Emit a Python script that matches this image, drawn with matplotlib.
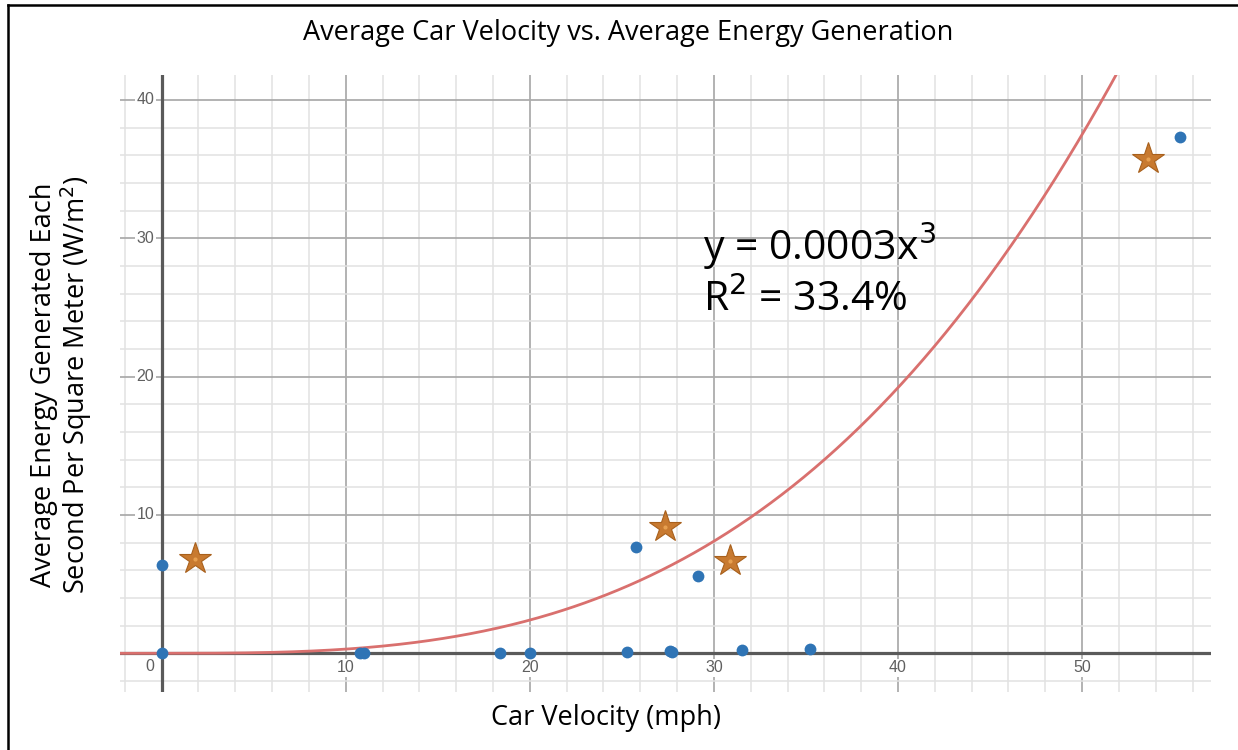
import matplotlib

matplotlib.use("Agg")

import matplotlib.pyplot as plt
import numpy as np
from matplotlib.lines import Line2D

# measured points (mph, W/m^2)
dot_x = [0.0, 0.0, 10.8, 11.0, 18.4, 20.0, 25.3, 25.75, 27.6, 27.7, 29.15, 31.5, 35.2, 55.3]
dot_y = [6.35, 0.0, 0.05, 0.05, 0.05, 0.05, 0.1, 7.65, 0.15, 0.1, 5.55, 0.2, 0.3, 37.3]
star_x = [1.8, 27.35, 30.9, 53.6]
star_y = [6.85, 9.1, 6.65, 35.7]
fit_coef = 0.0003
x_ticks = [10, 20, 30, 40, 50]
y_ticks = [10, 20, 30, 40]

W, H = 1238, 750
fig = plt.figure(figsize=(W / 100, H / 100), dpi=100)
fig.patch.set_facecolor("white")

# plot area in pixels (left, top, right, bottom)
L, T, R, B = 120, 75, 1211, 692
ax = fig.add_axes([L / W, 1 - B / H, (R - L) / W, (B - T) / H])
ax.set_xlim(-2.26, 57.0)
ax.set_ylim(-2.8, 41.8)
for s in ax.spines.values():
    s.set_visible(False)
ax.set_xticks([])
ax.set_yticks([])

# desmos-style grid
for gx in np.arange(-2, 57, 2):
    major = gx % 10 == 0
    ax.axvline(gx, color="#acacac" if major else "#e2e2e2",
               lw=1.3 if major else 1.1, zorder=0)
for gy in np.arange(-2, 42, 2):
    major = gy % 10 == 0
    ax.axhline(gy, color="#acacac" if major else "#e2e2e2",
               lw=1.3 if major else 1.1, zorder=0)
ax.axvline(0, color="#5a5a5a", lw=2.3, zorder=1)
ax.axhline(0, color="#5a5a5a", lw=2.3, zorder=1)

halo = dict(facecolor="white", edgecolor="none", pad=1.0)
tick_font = dict(family="Liberation Sans", fontsize=11.5, color="#606060")
for v in y_ticks:
    ax.text(-0.4, v, str(v), ha="right", va="center", bbox=halo, zorder=2, **tick_font)
for v in x_ticks:
    ax.text(v, -1.05, str(v), ha="center", va="center", bbox=halo, zorder=2, **tick_font)
ax.text(-0.4, -0.95, "0", ha="right", va="center", bbox=halo, zorder=2, **tick_font)

xs = np.linspace(-2.26, 57, 400)
ax.plot(xs, fit_coef * xs ** 3, color="#d9706e", lw=2.0, zorder=3, clip_on=True)

ax.plot(dot_x, dot_y, "o", color="#2f74b5", ms=8.5, mec="none", zorder=4)
ax.plot(star_x, star_y, "*", color="#c87a30", mec="#a8601c", mew=0.8, ms=24, zorder=5)
ax.plot(star_x, star_y, ".", color="#e8a050", ms=4, zorder=6)

eq_font = dict(family="Open Sans", fontsize=29.5, color="black")
ax.text(29.4, 29.4, r"y = 0.0003x$^3$", ha="left", va="center", zorder=6, **eq_font)
ax.text(29.4, 25.5, r"R$^2$ = 33.4%", ha="left", va="center", zorder=6, **eq_font)

lab_font = dict(family="Open Sans", fontsize=19.5, color="black")
fig.text(628 / W, 1 - 33 / H, "Average Car Velocity vs. Average Energy Generation",
         ha="center", va="center", **lab_font)
fig.text(606 / W, 1 - 718 / H, "Car Velocity (mph)", ha="center", va="center", **lab_font)
fig.text(62 / W, 1 - 385 / H,
         "Average Energy Generated Each\nSecond Per Square Meter (W/m$^2$)",
         ha="center", va="center", rotation=90, linespacing=1.0, **lab_font)

# outer frame (left and top edges visible)
fig.add_artist(Line2D([8 / W, 8 / W], [0, 1 - 5 / H], transform=fig.transFigure,
                      color="black", lw=1.8))
fig.add_artist(Line2D([8 / W, 1], [1 - 5 / H, 1 - 5 / H], transform=fig.transFigure,
                      color="black", lw=1.8))

fig.savefig("out.png", dpi=100, facecolor="white")
